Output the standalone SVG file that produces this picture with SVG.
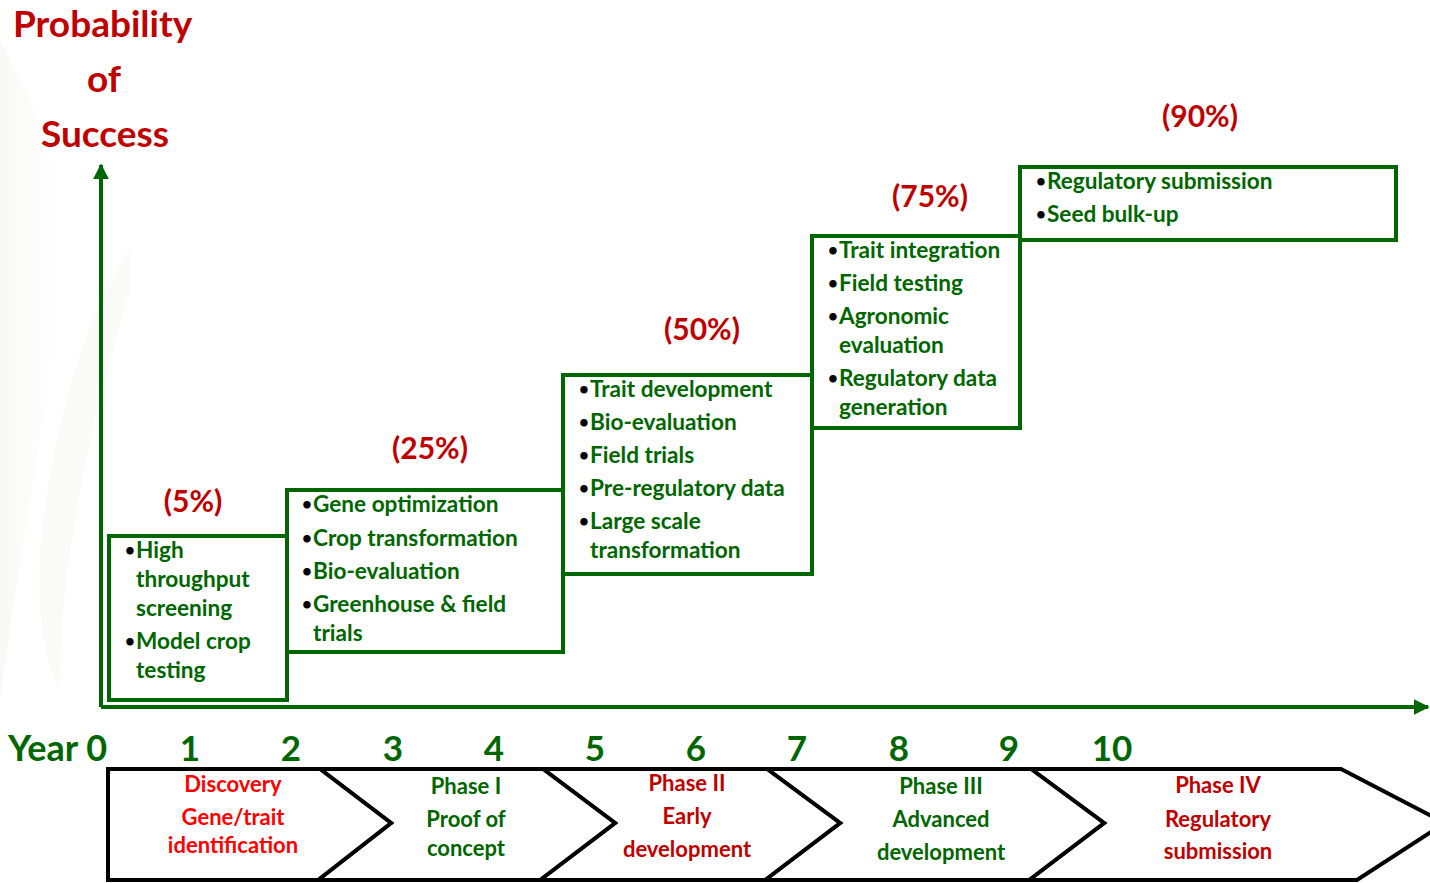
<svg xmlns="http://www.w3.org/2000/svg" width="1430" height="883" viewBox="0 0 1430 883">
<defs>
<style>
text{font-family:Lato,"Open Sans","Liberation Sans",sans-serif;font-weight:bold}
.title{fill:#c00000;font-size:37px}
.pct{fill:#c00000;font-size:30px;text-anchor:middle}
.item{fill:#006600;font-size:22.6px}
.bul{fill:#000;font-size:17px}
.yr{fill:#006600;font-size:36px}
.yn{fill:#006600;font-size:35px;text-anchor:middle}
.ph{font-size:22px;text-anchor:middle}
.g{fill:#006600}.r{fill:#c00000}.rb{fill:#ff0000}
.box{fill:none;stroke:#006600;stroke-width:4}
.chev{fill:#fff;stroke:#000;stroke-width:4;stroke-linejoin:miter}
.axis{stroke:#006600;stroke-width:4;fill:none}
</style>
<marker id="ah" viewBox="0 0 10 10" refX="9" refY="5" markerWidth="4" markerHeight="4" orient="auto" markerUnits="strokeWidth">
<path d="M0,0 L10,5 L0,10 z" fill="#006600"/>
</marker>
<linearGradient id="wm" x1="0" y1="0" x2="1" y2="0">
<stop offset="0" stop-color="#ececE6" stop-opacity="0.7"/>
<stop offset="1" stop-color="#ffffff" stop-opacity="0"/>
</linearGradient>
</defs>
<rect width="1430" height="883" fill="#fff"/>
<g id="watermark" opacity="0.5">
<path d="M0,40 C40,120 90,200 60,330 C40,430 20,560 0,700 Z" fill="url(#wm)"/>
<path d="M130,250 C90,310 50,420 40,560 C36,620 48,670 60,690 C58,600 80,450 130,290 Z" fill="#f0f0ea" opacity="0.6"/>
</g>
<g id="title">
<text class="title" x="13" y="37">Probability</text>
<text class="title" x="87" y="92">of</text>
<text class="title" x="41" y="147">Success</text>
</g>
<g id="connectors">
<line class="axis" x1="101" y1="707" x2="101" y2="165" marker-end="url(#ah)"/>
<line class="axis" x1="101" y1="707" x2="1428" y2="707" marker-end="url(#ah)"/>
</g>
<g id="step1">
<text class="pct" x="193" y="512">(5%)</text>
<rect class="box" x="109" y="536" width="178" height="164"/>
<text class="bul" x="125" y="556">•</text><text class="item" x="136" y="558">High</text>
<text class="item" x="136" y="587">throughput</text>
<text class="item" x="136" y="616">screening</text>
<text class="bul" x="125" y="647">•</text><text class="item" x="136" y="649">Model crop</text>
<text class="item" x="136" y="678">testing</text>
</g>
<g id="step2">
<text class="pct" x="430" y="459">(25%)</text>
<rect class="box" x="287" y="490" width="276" height="162"/>
<text class="bul" x="302" y="510">•</text><text class="item" x="313" y="512">Gene optimization</text>
<text class="bul" x="302" y="544">•</text><text class="item" x="313" y="546">Crop transformation</text>
<text class="bul" x="302" y="577">•</text><text class="item" x="313" y="579">Bio-evaluation</text>
<text class="bul" x="302" y="610">•</text><text class="item" x="313" y="612">Greenhouse &amp; field</text>
<text class="item" x="313" y="641">trials</text>
</g>
<g id="step3">
<text class="pct" x="702" y="340">(50%)</text>
<rect class="box" x="563" y="375" width="249" height="199"/>
<text class="bul" x="579" y="395">•</text><text class="item" x="590" y="397">Trait development</text>
<text class="bul" x="579" y="428">•</text><text class="item" x="590" y="430">Bio-evaluation</text>
<text class="bul" x="579" y="461">•</text><text class="item" x="590" y="463">Field trials</text>
<text class="bul" x="579" y="494">•</text><text class="item" x="590" y="496">Pre-regulatory data</text>
<text class="bul" x="579" y="527">•</text><text class="item" x="590" y="529">Large scale</text>
<text class="item" x="590" y="558">transformation</text>
</g>
<g id="step4">
<text class="pct" x="930" y="207">(75%)</text>
<rect class="box" x="812" y="236" width="208" height="192"/>
<text class="bul" x="828" y="256">•</text><text class="item" x="839" y="258">Trait integration</text>
<text class="bul" x="828" y="289">•</text><text class="item" x="839" y="291">Field testing</text>
<text class="bul" x="828" y="322">•</text><text class="item" x="839" y="324">Agronomic</text>
<text class="item" x="839" y="353">evaluation</text>
<text class="bul" x="828" y="384">•</text><text class="item" x="839" y="386">Regulatory data</text>
<text class="item" x="839" y="415">generation</text>
</g>
<g id="step5">
<text class="pct" x="1200" y="127">(90%)</text>
<rect class="box" x="1020" y="167" width="376" height="73"/>
<text class="bul" x="1036" y="187">•</text><text class="item" x="1047" y="189">Regulatory submission</text>
<text class="bul" x="1036" y="220">•</text><text class="item" x="1047" y="222">Seed bulk-up</text>
</g>
<g id="years">
<text class="yr" x="8" y="761">Year 0</text>
<text class="yn" x="190" y="761">1</text>
<text class="yn" x="291" y="761">2</text>
<text class="yn" x="393" y="761">3</text>
<text class="yn" x="494" y="761">4</text>
<text class="yn" x="595" y="761">5</text>
<text class="yn" x="696" y="761">6</text>
<text class="yn" x="797" y="761">7</text>
<text class="yn" x="899" y="761">8</text>
<text class="yn" x="1009" y="761">9</text>
<text class="yn" x="1112" y="761">10</text>
</g>
<g id="phase4">
<path class="chev" d="M1031,769 L1341,769 L1445,823 L1357,880 L1029,880 L1104,823 Z"/>
<text class="ph r" x="1218" y="793">Phase IV</text>
<text class="ph r" x="1218" y="827">Regulatory</text>
<text class="ph r" x="1218" y="859">submission</text>
</g>
<g id="phase3">
<path class="chev" d="M767,769 L1031,769 L1104,823 L1029,880 L765,880 L840,823 Z"/>
<text class="ph g" x="941" y="794">Phase III</text>
<text class="ph g" x="941" y="827">Advanced</text>
<text class="ph g" x="941" y="860">development</text>
</g>
<g id="phase2">
<path class="chev" d="M543,769 L767,769 L840,823 L765,880 L540,880 L615,823 Z"/>
<text class="ph r" x="687" y="791">Phase II</text>
<text class="ph r" x="687" y="824">Early</text>
<text class="ph r" x="687" y="857">development</text>
</g>
<g id="phase1">
<path class="chev" d="M320,769 L543,769 L615,823 L540,880 L318,880 L391,823 Z"/>
<text class="ph g" x="466" y="794">Phase I</text>
<text class="ph g" x="466" y="827">Proof of</text>
<text class="ph g" x="466" y="856">concept</text>
</g>
<g id="discovery">
<path class="chev" d="M108,769 L320,769 L391,823 L318,880 L108,880 Z"/>
<text class="ph rb" x="233" y="792">Discovery</text>
<text class="ph rb" x="233" y="825">Gene/trait</text>
<text class="ph rb" x="233" y="853">identification</text>
</g>
</svg>
